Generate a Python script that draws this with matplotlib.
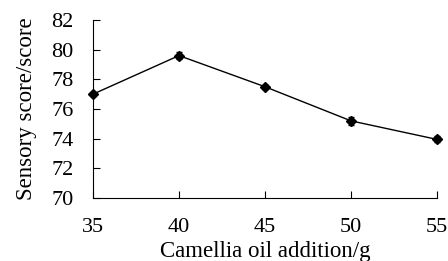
import matplotlib
matplotlib.use("Agg")
import matplotlib.pyplot as plt

oil = [35, 40, 45, 50, 55]
score = [77.0, 79.6, 77.5, 75.2, 73.95]
err = [0.15, 0.25, 0.15, 0.25, 0.2]

plt.rcParams['font.family'] = ['Liberation Serif', 'DejaVu Serif']

fig = plt.figure(figsize=(4.48, 2.61), dpi=100)
ax = fig.add_axes([0.2076, 0.2414, 0.7678, 0.682])

ax.errorbar(oil, score, yerr=err, color='black', marker='D', markersize=5,
            linewidth=1, elinewidth=1, capsize=2.5, capthick=1, clip_on=False, zorder=3)

ax.set_xlim(35, 55)
ax.set_ylim(70, 82)
ax.set_xticks(oil)
ax.set_yticks(range(70, 83, 2))
ax.spines['top'].set_visible(False)
ax.spines['right'].set_visible(False)
ax.tick_params(direction='in', length=5, width=0.8, labelsize=16)
ax.tick_params(axis='y', pad=14)
ax.tick_params(axis='x', pad=14.5)
ax.set_xlabel('Camellia oil addition/g', fontsize=16.5, labelpad=2.5)
ax.set_ylabel('Sensory score/score', fontsize=16.5, labelpad=10)

fig.savefig('out.png', dpi=100)
